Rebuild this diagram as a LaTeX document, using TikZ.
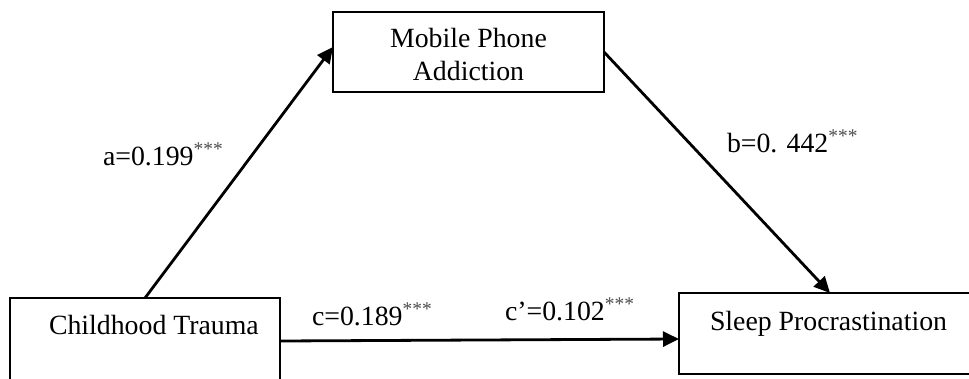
\documentclass[tikz,border=0pt]{standalone}
\usepackage{fontspec}
\setmainfont{Liberation Serif}
\usetikzlibrary{arrows.meta,calc}
\begin{document}
\begin{tikzpicture}[x=1pt,y=-1pt,
  box/.style={draw=black,line width=2.2pt,rectangle,anchor=north west,inner sep=0pt,outer sep=0pt},
  txt/.style={anchor=base west,inner sep=0pt,outer sep=0pt,font=\fontsize{27.8}{33}\selectfont},
  ctxt/.style={anchor=base,inner sep=0pt,outer sep=0pt,font=\fontsize{27.8}{33}\selectfont},
  path/.style={draw=black,line width=2.8pt,-{Triangle[length=16pt,width=15pt]}}]
\useasboundingbox (0,0) rectangle (969,378);
\clip (0,0) rectangle (969,378);
\newcommand{\stars}{\textsuperscript{\textcolor{black!70}{***}}}
% boxes
\node[box,minimum width=270pt,minimum height=110pt] (ct) at (10,298) {};
\node[box,minimum width=271pt,minimum height=80pt] (mp) at (333,12) {};
\node[box,minimum width=310pt,minimum height=81pt] (sp) at (679,293) {};
% box texts
\node[txt] (ctl) at (49,334) {Childhood Trauma};
\node[ctxt] (mpl1) at (468.5,47) {Mobile Phone};
\node[ctxt] (mpl2) at (468.5,80) {Addiction};
\node[txt] (spl) at (710,330) {Sleep Procrastination};
% paths
\draw[path] ($(ct.north west)+(135,0)$) -- ($(mp.north west)+(0,35)$);
\draw[path] ($(mp.north east)+(0,40)$) -- ($(sp.north west)+(151,0)$);
\draw[path] ($(ct.north east)+(0,43)$) -- ($(sp.north west)+(0,46)$);
% labels
\node[txt] (la) at (103,165) {a=0.199\stars};
\node[txt] (lb) at (727,152) {b=0. 442\stars};
\node[txt] (lc) at (312,325) {c=0.189\stars};
\node[txt] (lcp) at (505,320) {c’=0.102\stars};
\end{tikzpicture}
\end{document}
